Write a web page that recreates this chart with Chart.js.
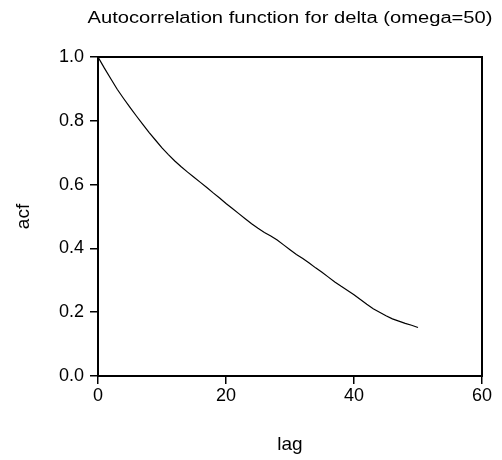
<!DOCTYPE html>
<html>
<head>
<meta charset="utf-8">
<script src="https://cdn.jsdelivr.net/npm/chart.js@4.4.1/dist/chart.umd.min.js"></script>
<style>
  html, body { margin: 0; padding: 0; background: #fff; }
  #wrap { width: 502px; height: 460px; }
</style>
</head>
<body>
<div id="wrap"><canvas id="acfChart"></canvas></div>
<script>
// values
let chart_title = 'Autocorrelation function for delta (omega=50)';
let lags = [0, 1, 2, 3, 4, 5, 6, 7, 8, 9, 10, 11, 12, 13, 14, 15, 16, 17, 18, 19, 20,
    21, 22, 23, 24, 25, 26, 27, 28, 29, 30, 31, 32, 33, 34, 35, 36, 37, 38, 39, 40,
    41, 42, 43, 44, 45, 46, 47, 48, 49, 50];
let acf_values = [1.000, 0.965, 0.932, 0.899, 0.870, 0.842, 0.815, 0.789, 0.763, 0.739, 0.715,
    0.694, 0.674, 0.656, 0.639, 0.623, 0.607, 0.591, 0.574, 0.558, 0.541,
    0.525, 0.509, 0.493, 0.477, 0.463, 0.450, 0.439, 0.426, 0.411, 0.396,
    0.381, 0.368, 0.354, 0.339, 0.325, 0.310, 0.295, 0.281, 0.268, 0.255,
    0.240, 0.225, 0.211, 0.200, 0.189, 0.179, 0.172, 0.165, 0.159, 0.152];
let x_ticks = [0, 20, 40, 60];
let y_ticks = [0.0, 0.2, 0.4, 0.6, 0.8, 1.0];

const font_name = '"Liberation Sans", Arial, sans-serif';

// frame around the plot + title over the plot area
const framePlugin = {
    id: 'frame',
    afterDatasetsDraw(chart) {
        const { ctx, chartArea } = chart;
        ctx.save();
        ctx.strokeStyle = '#000';
        ctx.lineWidth = 2;
        ctx.strokeRect(chartArea.left, chartArea.top, chartArea.right - chartArea.left, chartArea.bottom - chartArea.top);
        ctx.restore();
    },
    afterDraw(chart) {
        const { ctx, chartArea } = chart;
        ctx.save();
        ctx.font = '16px ' + font_name;
        ctx.fillStyle = '#000';
        ctx.textAlign = 'center';
        ctx.textBaseline = 'alphabetic';
        const w = ctx.measureText(chart_title).width;
        const sx = 405 / w;
        ctx.translate((chartArea.left + chartArea.right) / 2, 23);
        ctx.scale(sx, 1);
        ctx.fillText(chart_title, 0, 0);
        ctx.restore();
    }
};

let chart_holder = document.getElementById('acfChart');

let acf_chart = new Chart(chart_holder, {
    type: 'line',
    data: {
        datasets: [{
            label: 'acf',
            data: lags.map((lag, i) => ({ x: lag, y: acf_values[i] })),
            borderColor: '#000',
            borderWidth: 1.2,
            pointRadius: 0,
            tension: 0,
            fill: false
        }]
    },
    options: {
        responsive: true,
        maintainAspectRatio: false,
        animation: false,
        layout: { padding: { top: 57, right: 20, left: 0, bottom: 0 } },
        plugins: {
            legend: { display: false },
            tooltip: { enabled: false },
            title: { display: false }
        },
        scales: {
            x: {
                type: 'linear',
                min: 0,
                max: 60,
                afterBuildTicks: (scale) => { scale.ticks = x_ticks.map(v => ({ value: v })); },
                afterFit: (scale) => { scale.height = 84; },
                ticks: {
                    color: '#000',
                    font: { family: font_name, size: 18 },
                    padding: 1,
                    maxRotation: 0
                },
                grid: {
                    drawOnChartArea: false,
                    drawTicks: true,
                    tickLength: 8,
                    color: '#000',
                    lineWidth: 1.5
                },
                border: { display: true, color: '#000', width: 2 },
                title: {
                    display: true,
                    text: 'lag',
                    color: '#000',
                    font: { family: font_name, size: 19 },
                    padding: { top: 0, bottom: 4 }
                }
            },
            y: {
                type: 'linear',
                min: 0,
                max: 1,
                afterBuildTicks: (scale) => { scale.ticks = y_ticks.map(v => ({ value: v })); },
                afterFit: (scale) => { scale.width = 98; },
                ticks: {
                    color: '#000',
                    font: { family: font_name, size: 18 },
                    padding: 6,
                    callback: (v) => Number(v).toFixed(1)
                },
                grid: {
                    drawOnChartArea: false,
                    drawTicks: true,
                    tickLength: 8,
                    color: '#000',
                    lineWidth: 1.5
                },
                border: { display: true, color: '#000', width: 2 },
                title: {
                    display: true,
                    text: 'acf',
                    color: '#000',
                    font: { family: font_name, size: 19 },
                    padding: { top: 12, bottom: 0 }
                }
            }
        }
    },
    plugins: [framePlugin]
});
</script>
</body>
</html>
